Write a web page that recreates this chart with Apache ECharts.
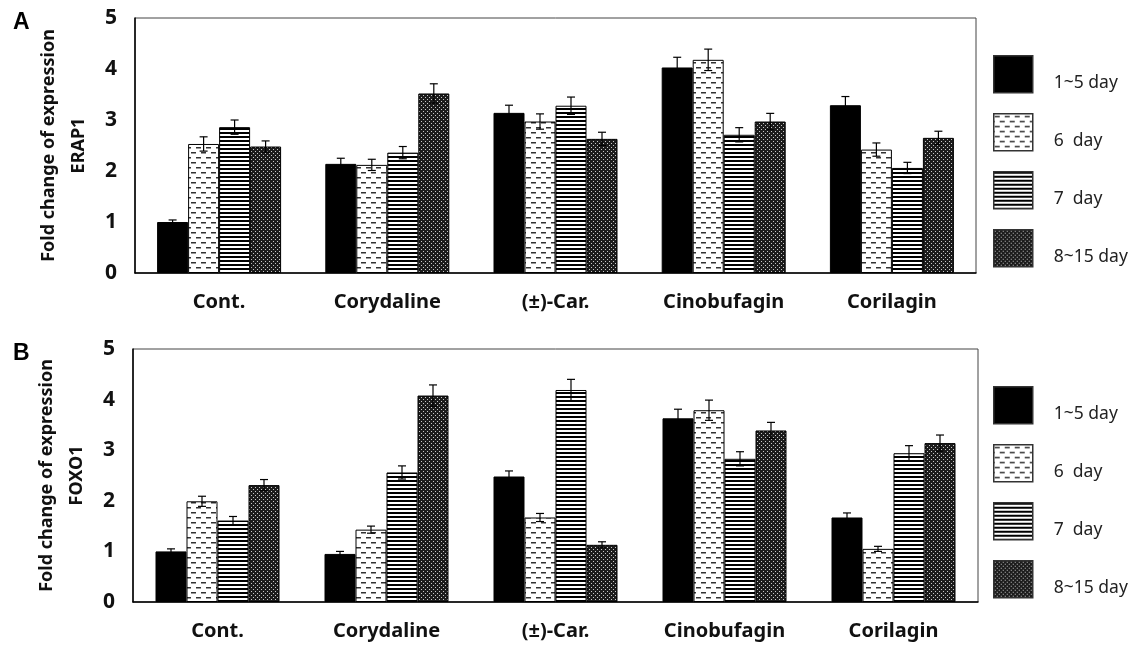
<!DOCTYPE html>
<html>
<head>
<meta charset="utf-8">
<script src="https://cdn.jsdelivr.net/npm/echarts@6/dist/echarts.min.js"></script>
<style>html,body{margin:0;padding:0;background:#fff;}#c{width:1130px;height:648px;}</style>
</head>
<body>
<div id="c"></div>
<script>
// ---------- DATA ----------
const categories = ['Cont.', 'Corydaline', '(±)-Car.', 'Cinobufagin', 'Corilagin'];
const dayLabels = ['1~5 day', '6  day', '7  day', '8~15 day'];

// Panel A: ERAP1
const erap1_d1_5  = [1.00, 2.14, 3.14, 4.03, 3.29];
const erap1_d6    = [2.53, 2.12, 2.97, 4.18, 2.42];
const erap1_d7    = [2.86, 2.36, 3.28, 2.71, 2.06];
const erap1_d8_15 = [2.48, 3.52, 2.63, 2.97, 2.65];
const erap1_err_d1_5  = [0.04, 0.11, 0.15, 0.20, 0.17];
const erap1_err_d6    = [0.14, 0.11, 0.15, 0.21, 0.13];
const erap1_err_d7    = [0.14, 0.12, 0.17, 0.14, 0.11];
const erap1_err_d8_15 = [0.11, 0.19, 0.13, 0.16, 0.13];

// Panel B: FOXO1
const foxo1_d1_5  = [1.00, 0.95, 2.48, 3.63, 1.67];
const foxo1_d6    = [1.99, 1.43, 1.67, 3.79, 1.05];
const foxo1_d7    = [1.61, 2.56, 4.19, 2.83, 2.94];
const foxo1_d8_15 = [2.31, 4.08, 1.13, 3.39, 3.14];
const foxo1_err_d1_5  = [0.05, 0.05, 0.11, 0.18, 0.09];
const foxo1_err_d6    = [0.10, 0.07, 0.08, 0.20, 0.05];
const foxo1_err_d7    = [0.08, 0.13, 0.21, 0.14, 0.15];
const foxo1_err_d8_15 = [0.11, 0.21, 0.06, 0.16, 0.16];

const yTicks = [0, 1, 2, 3, 4, 5];

// ---------- PATTERNS ----------
function mk(w, h, draw) {
  const c = document.createElement('canvas');
  c.width = w; c.height = h;
  const g = c.getContext('2d');
  draw(g);
  return c;
}
const patSolid = '#000';
const patDash = { image: mk(10, 10, g => {
  g.fillStyle = '#fff'; g.fillRect(0, 0, 10, 10);
  g.fillStyle = '#333';
  g.fillRect(1, 2, 5, 1.5);
  g.fillRect(6, 7, 4, 1.5);
  g.fillRect(0, 7, 1, 1.5);
}), repeat: 'repeat' };
const patStripe = { image: mk(4, 4, g => {
  g.fillStyle = '#fff'; g.fillRect(0, 0, 4, 4);
  g.fillStyle = '#000'; g.fillRect(0, 0, 4, 2);
}), repeat: 'repeat' };
const patDots = { image: mk(4, 4, g => {
  g.fillStyle = '#1c1c1c'; g.fillRect(0, 0, 4, 4);
  g.fillStyle = '#c8c8c8';
  g.fillRect(1, 1, 1, 1);
  g.fillRect(3, 3, 1, 1);
}), repeat: 'repeat' };
const fills = [patSolid, patDash, patStripe, patDots];

const BAR_W = 31;
const FONT = '"Noto Sans", "Open Sans", sans-serif';

function barSeries(idx, vals, k) {
  return {
    name: dayLabels[k], type: 'bar', xAxisIndex: idx, yAxisIndex: idx,
    data: vals, barWidth: BAR_W, barGap: '0%',
    itemStyle: { color: fills[k], borderColor: '#000', borderWidth: 1 },
    z: 2
  };
}
function errData(valsList, errList) {
  const out = [];
  valsList.forEach((vals, k) => {
    vals.forEach((v, i) => {
      const e = errList[k][i];
      out.push([i, v - e, v + e, k]);
    });
  });
  return out;
}
function errSeries(idx, data) {
  return {
    type: 'custom', xAxisIndex: idx, yAxisIndex: idx, z: 5,
    data: data,
    encode: { x: 0, y: [1, 2] },
    renderItem: function (params, api) {
      const cat = api.value(0), lo = api.value(1), hi = api.value(2), k = api.value(3);
      const pt = api.coord([cat, hi]);
      const pb = api.coord([cat, lo]);
      const x = pt[0] + (k - 1.5) * BAR_W;
      const cw = 4;
      const st = { stroke: '#000', lineWidth: 1.2 };
      return { type: 'group', children: [
        { type: 'line', shape: { x1: x, y1: pt[1], x2: x, y2: pb[1] }, style: st },
        { type: 'line', shape: { x1: x - cw, y1: pt[1], x2: x + cw, y2: pt[1] }, style: st },
        { type: 'line', shape: { x1: x - cw, y1: pb[1], x2: x + cw, y2: pb[1] }, style: st }
      ]};
    }
  };
}

function xAxisCfg(idx) {
  return {
    type: 'category', gridIndex: idx, data: categories,
    axisLine: { lineStyle: { color: '#000', width: 1.5 } },
    axisTick: { show: false },
    axisLabel: { color: '#111', fontSize: 20, fontWeight: 'bold', fontFamily: FONT, margin: 19 }
  };
}
function yAxisCfg(idx, gene) {
  return {
    type: 'value', gridIndex: idx, min: yTicks[0], max: yTicks[yTicks.length - 1], interval: 1,
    name: 'Fold change of expression\n' + gene,
    nameLocation: 'middle', nameRotate: 90, nameGap: 40,
    nameTextStyle: { color: '#111', fontSize: 18, fontWeight: 'bold', fontFamily: FONT, lineHeight: 30 },
    axisLine: { show: true, lineStyle: { color: '#000', width: 1.5 } },
    axisTick: { show: false },
    splitLine: { show: false },
    axisLabel: { color: '#111', fontSize: 21, fontWeight: 'bold', fontFamily: FONT, margin: 18 }
  };
}
function legendCfg(top) {
  return {
    orient: 'vertical', left: 988, top: top, itemWidth: 39, itemHeight: 37, itemGap: 19.5,
    icon: 'rect', selectedMode: false, data: dayLabels,
    formatter: function (name) { return '\n' + name; },
    itemStyle: { borderColor: '#333', borderWidth: 1.5 },
    textStyle: { color: '#222', fontSize: 17.5, lineHeight: 18, fontFamily: FONT, padding: [0, 0, 0, 16] }
  };
}

const chart = echarts.init(document.getElementById('c'), null, { renderer: 'canvas' });
chart.setOption({
  animation: false,
  backgroundColor: '#fff',
  title: [
    { text: 'A', left: 8, top: 6, textStyle: { fontSize: 23, fontWeight: 'bold', color: '#000', fontFamily: 'Liberation Sans, Arial, sans-serif' } },
    { text: 'B', left: 8, top: 337, textStyle: { fontSize: 23, fontWeight: 'bold', color: '#000', fontFamily: 'Liberation Sans, Arial, sans-serif' } }
  ],
  grid: [
    { left: 135, top: 18, width: 841, height: 255, show: true, borderColor: '#444', borderWidth: 1, backgroundColor: 'transparent' },
    { left: 133, top: 349, width: 845, height: 253, show: true, borderColor: '#444', borderWidth: 1, backgroundColor: 'transparent' }
  ],
  legend: [legendCfg(50), legendCfg(381)],
  xAxis: [xAxisCfg(0), xAxisCfg(1)],
  yAxis: [yAxisCfg(0, 'ERAP1'), yAxisCfg(1, 'FOXO1')],
  series: [
    barSeries(0, erap1_d1_5, 0),
    barSeries(0, erap1_d6, 1),
    barSeries(0, erap1_d7, 2),
    barSeries(0, erap1_d8_15, 3),
    errSeries(0, errData([erap1_d1_5, erap1_d6, erap1_d7, erap1_d8_15],
                         [erap1_err_d1_5, erap1_err_d6, erap1_err_d7, erap1_err_d8_15])),
    barSeries(1, foxo1_d1_5, 0),
    barSeries(1, foxo1_d6, 1),
    barSeries(1, foxo1_d7, 2),
    barSeries(1, foxo1_d8_15, 3),
    errSeries(1, errData([foxo1_d1_5, foxo1_d6, foxo1_d7, foxo1_d8_15],
                         [foxo1_err_d1_5, foxo1_err_d6, foxo1_err_d7, foxo1_err_d8_15]))
  ]
});
</script>
</body>
</html>
